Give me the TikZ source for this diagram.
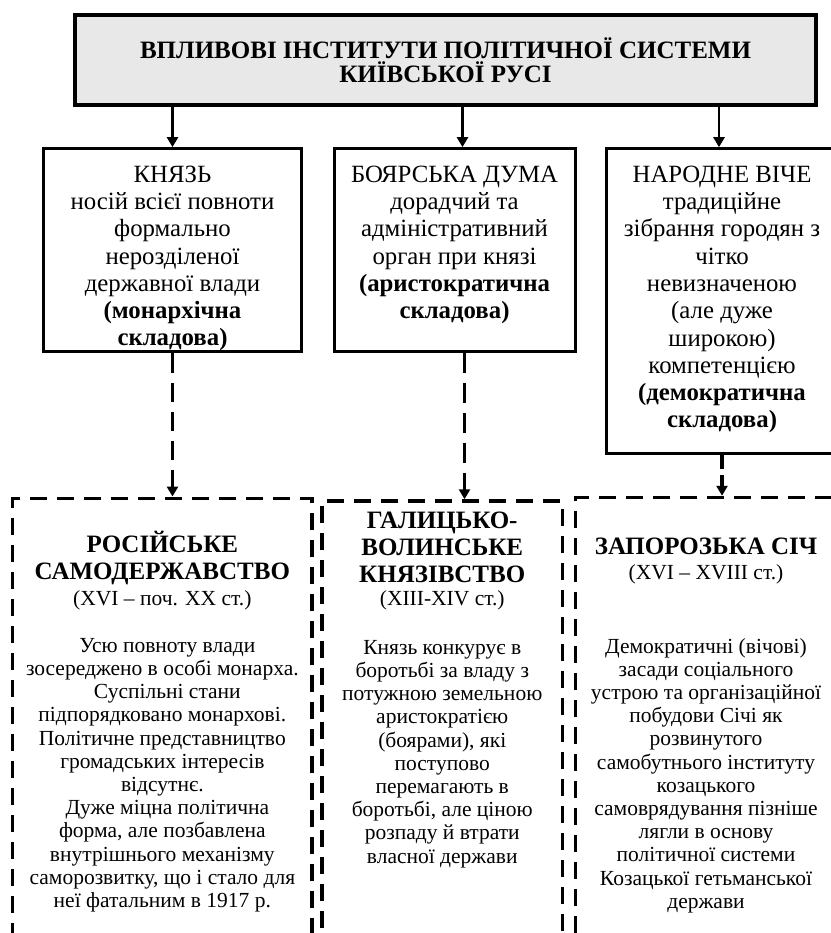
\documentclass[tikz,border=0pt]{standalone}
\usepackage{fontspec}
\setmainfont{Liberation Serif}
\usetikzlibrary{positioning,arrows.meta}
\definecolor{headgray}{RGB}{232,232,232}
\tikzset{
  box/.style={draw, line width=3pt, inner sep=0pt},
  dbox/.style={draw, line width=3.5pt, dash pattern=on 17pt off 10pt, inner sep=0pt},
  txt/.style={inner sep=0pt, align=center, execute at begin node=\strut},
  midtxt/.style={txt, font=\fontsize{24.8}{27.3}\selectfont},
  lowtitle/.style={txt, font=\bfseries\fontsize{25}{26.8}\selectfont},
  lowtxt/.style={txt, font=\fontsize{21.5}{23.2}\selectfont},
  arr/.style={line width=2.5pt, -{Triangle[width=11pt,length=10pt]}},
  darr/.style={arr, line width=3.5pt, dash pattern=on 19.4pt off 9.7pt},
}
\begin{document}
\begin{tikzpicture}[x=1pt, y=-1pt]
\useasboundingbox (0,0) rectangle (830,933);
% title
\node[box, fill=headgray, minimum width=742pt, minimum height=91pt, align=center,
      font=\bfseries\fontsize{25}{23.5}\selectfont] (head) at (445.5,60)
      {ВПЛИВОВІ ІНСТИТУТИ ПОЛІТИЧНОЇ СИСТЕМИ\\КИЇВСЬКОЇ РУСІ};
\draw[line width=1.5pt] ([shift={(3.5pt,-3.5pt)}]head.north west)
      rectangle ([shift={(-3.5pt,3.5pt)}]head.south east);
% institutes
\node[box, minimum width=258.4pt, minimum height=203.3pt] (knyaz) at (172.5,250.3) {};
\node[box, minimum width=241pt, minimum height=203.3pt] (duma) at (454.5,250.3) {};
\node[box, minimum width=231pt, minimum height=304.6pt] (viche) at (722,301) {};
\node[midtxt, below=18.4pt of knyaz.north] (knyaz-t)
      {КНЯЗЬ\\носій всієї повноти\\формально\\нерозділеної\\державної влади\\
       \textbf{(монархічна}\\\textbf{складова)}};
\node[midtxt, below=18.4pt of duma.north] (duma-t)
      {БОЯРСЬКА ДУМА\\дорадчий та\\адміністративний\\орган при князі\\
       \textbf{(аристократична}\\\textbf{складова)}};
\node[midtxt, below=18.4pt of viche.north] (viche-t)
      {НАРОДНЕ ВІЧЕ\\традиційне\\зібрання городян з\\чітко\\невизначеною\\(але дуже\\
       широкою)\\компетенцією\\\textbf{(демократична}\\\textbf{складова)}};
% later states
\node[dbox, minimum width=299.3pt, minimum height=461.7pt] (rosia) at (162.35,729.15) {};
\node[dbox, minimum width=240.5pt, minimum height=459pt] (galych) at (442.25,730.5) {};
\node[dbox, minimum width=261.4pt, minimum height=462.5pt] (sich) at (706,728.75) {};
\node[lowtitle, below=34.5pt of rosia.north] (rosia-t) {РОСІЙСЬКЕ\\САМОДЕРЖАВСТВО};
\node[lowtxt, below=92.5pt of rosia.north] (rosia-d) {(XVI – поч. XX ст.)};
\node[lowtxt, below=141.5pt of rosia.north] (rosia-b)
      {\hspace*{10pt}Усю повноту влади\\зосереджено в особі монарха.\\
       \hspace*{10pt}Суспільні стани\\підпорядковано монархові.\\
       Політичне представництво\\громадських інтересів\\відсутнє.\\
       \hspace*{10pt}Дуже міцна політична\\форма, але позбавлена\\
       внутрішнього механізму\\саморозвитку, що і стало для\\неї фатальним в 1917 р.};
\node[lowtitle, below=12.8pt of galych.north] (galych-t) {ГАЛИЦЬКО-\\ВОЛИНСЬКЕ\\КНЯЗІВСТВО};
\node[lowtxt, below=89.8pt of galych.north] (galych-d) {(XIII-XIV ст.)};
\node[lowtxt, below=140.8pt of galych.north] (galych-b)
      {Князь конкурує в\\боротьбі за владу з\\потужною земельною\\аристократією\\
       (боярами), які\\поступово\\перемагають в\\боротьбі, але ціною\\
       розпаду й втрати\\власної держави};
\node[lowtitle, below=39.3pt of sich.north] (sich-t) {ЗАПОРОЗЬКА СІЧ};
\node[lowtxt, below=67.3pt of sich.north] (sich-d) {(XVI – XVIII ст.)};
\node[lowtxt, below=142.3pt of sich.north] (sich-b)
      {Демократичні (вічові)\\засади соціального\\устрою та організаційної\\
       побудови Січі як\\розвинутого\\самобутнього інституту\\козацького\\
       самоврядування пізніше\\лягли в основу\\політичної системи\\
       Козацької гетьманської\\держави};
% arrows
\draw[arr] (head.south -| knyaz.north) -- (knyaz.north);
\draw[arr] ([xshift=8pt]duma.north |- head.south) -- ([xshift=8pt]duma.north);
\draw[arr] ([xshift=-3pt]viche.north |- head.south) -- ([xshift=-3pt]viche.north);
\draw[darr] (knyaz.south) -- (knyaz.south |- rosia.north);
\draw[darr, dash pattern=on 19.9pt off 9.9pt]
      ([xshift=10pt]duma.south) -- ([xshift=10pt]duma.south |- galych.north);
\draw[darr, dash pattern=on 14pt off 6.5pt] (viche.south) -- (viche.south |- sich.north);
\end{tikzpicture}
\end{document}
